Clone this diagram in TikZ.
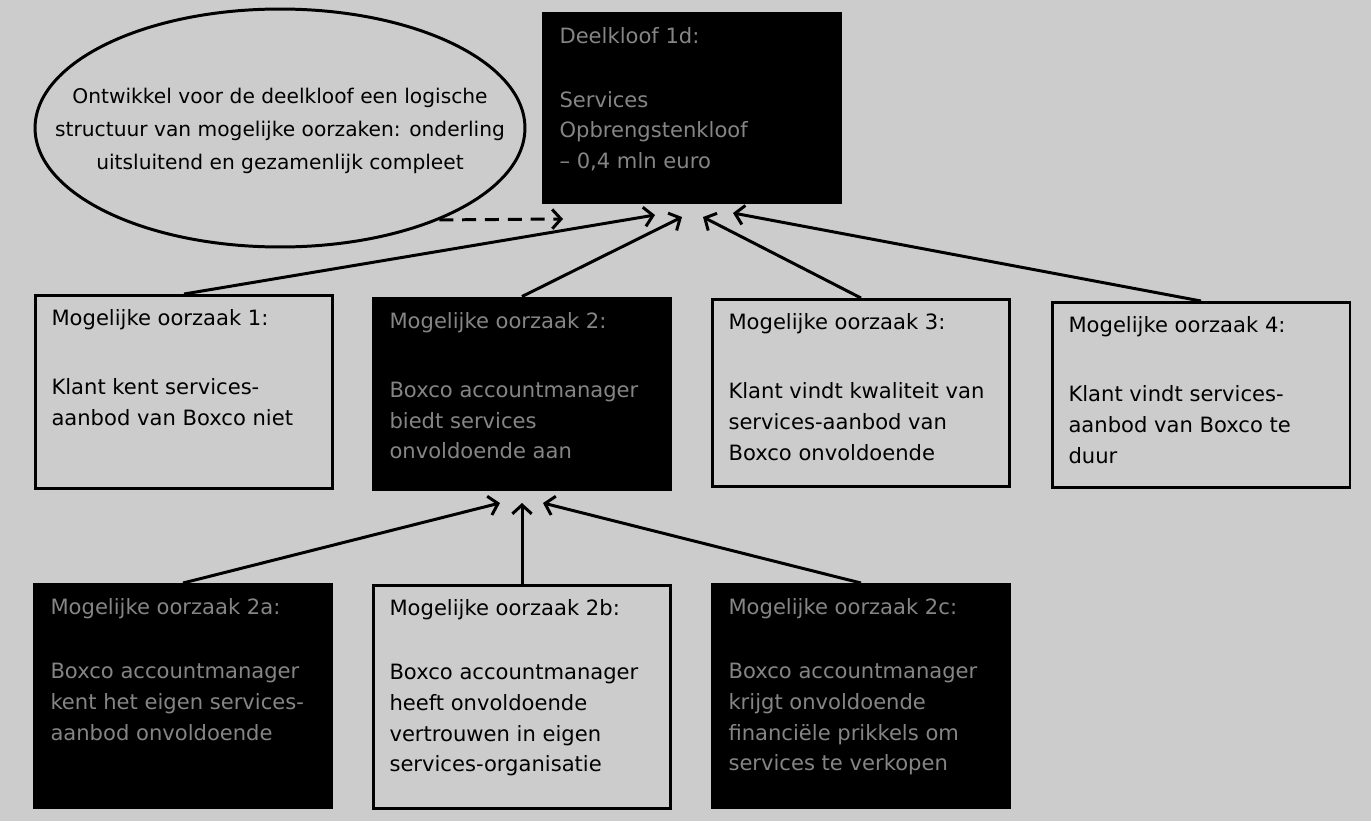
\documentclass[tikz,border=0pt]{standalone}
\usepackage{fontspec}
\setmainfont{DejaVu Sans}
\usetikzlibrary{arrows.meta,shapes.geometric}

\newcommand{\cbody}[2]{\parbox[c][#1][t]{5.3cm}{\raggedright #2}}

\begin{document}
\begin{tikzpicture}[x=0.02cm,y=-0.02cm,line width=1.7pt,
                >={Straight Barb[length=5pt,width=11pt]},
                cause/.style={draw,rectangle,inner xsep=0.33cm,inner ysep=0.28cm,
                  font=\fontsize{12}{17.5}\selectfont},
                dark/.style={cause,fill=black,text=black!48},
                goal/.style={ellipse,draw,inner sep=0pt,minimum width=9.8cm,minimum height=4.76cm,
                  font=\fontsize{11.5}{19}\selectfont}]
  \useasboundingbox (0,0) rectangle (1371,821);
  \fill[black!20] (0,0) rectangle (1371,821);

  \node[goal] (ell) at (280,128) {\makebox[0pt]{\smash{\raisebox{-4pt}{\begin{tabular}{@{}c@{}}
    Ontwikkel voor de deelkloof een logische\\
    structuur van mogelijke oorzaken: onderling\\
    uitsluitend en gezamenlijk compleet\end{tabular}}}}};
  \node[dark] (gap) at (692,108) {\cbody{3.24cm}{Deelkloof 1d:\\[19pt]Services\\
    Opbrengstenkloof\\-- 0,4 mln euro}};

  \node[cause] (c1) at (184,392) {\cbody{3.3cm}{Mogelijke oorzaak 1:\\[22pt]Klant kent services-\\
    aanbod van Boxco niet}};
  \node[dark] (c2) at (522,394) {\cbody{3.28cm}{Mogelijke oorzaak 2:\\[22pt]Boxco accountmanager\\
    biedt services\\onvoldoende aan}};
  \node[cause] (c3) at (861,393) {\cbody{3.18cm}{Mogelijke oorzaak 3:\\[22pt]Klant vindt kwaliteit van\\
    services-aanbod van\\Boxco onvoldoende}};
  \node[cause] (c4) at (1201,395) {\cbody{3.14cm}{Mogelijke oorzaak 4:\\[22pt]Klant vindt services-\\
    aanbod van Boxco te\\duur}};

  \node[dark] (c2a) at (183,696) {\cbody{3.9cm}{Mogelijke oorzaak 2a:\\[19pt]Boxco accountmanager\\
    kent het eigen services-\\aanbod onvoldoende}};
  \node[cause] (c2b) at (522,697) {\cbody{3.9cm}{Mogelijke oorzaak 2b:\\[19pt]Boxco accountmanager\\
    heeft onvoldoende\\vertrouwen in eigen\\services-organisatie}};
  \node[dark] (c2c) at (861,696) {\cbody{3.9cm}{Mogelijke oorzaak 2c:\\[19pt]Boxco accountmanager\\
    krijgt onvoldoende\\financi\"ele prikkels om\\services te verkopen}};

  % free ends of the arrows
  \coordinate (d1) at (563,219);
  \coordinate (t1) at (655,215);
  \coordinate (t2) at (682,217);
  \coordinate (t3) at (703,217);
  \coordinate (t4) at (733,213);
  \coordinate (s1) at (500,503);
  \coordinate (s2) at (522,503);
  \coordinate (s3) at (543,503);

  \draw[->,dash pattern=on 8pt off 5pt] (ell.-30) -- (d1);
  \path[->]
    (c1.north) edge (t1)
    (c2.north) edge (t2)
    (c3.north) edge (t3)
    (c4.north) edge (t4)
    (c2a.north) edge (s1)
    (c2b.north) edge (s2)
    (c2c.north) edge (s3)
  ;
\end{tikzpicture}
\end{document}
